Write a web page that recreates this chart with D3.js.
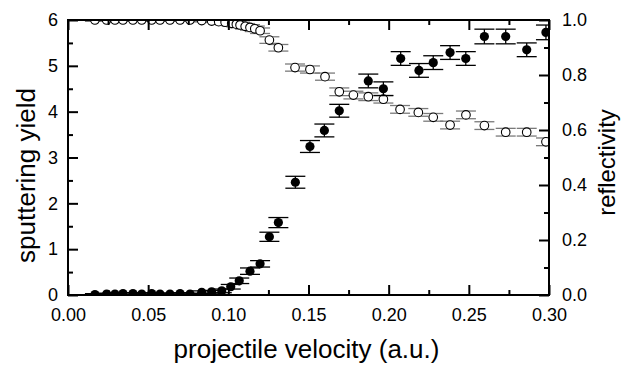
<!DOCTYPE html>
<html>
<head>
<meta charset="utf-8">
<script src="https://cdn.jsdelivr.net/npm/d3@7"></script>
<style>
  body { margin: 0; background: #fff; }
  svg text { font-family: "Liberation Sans", Arial, sans-serif; fill: #000; }
</style>
</head>
<body>
<svg id="chart"></svg>
<script>
// sputtering yield (filled circles, left axis)
const velYield = [0.0168, 0.0241, 0.0293, 0.0343, 0.0405, 0.0460, 0.0522, 0.0574, 0.0636, 0.0699, 0.0761,
  0.0834, 0.0896, 0.0959, 0.1015, 0.1068, 0.1135, 0.1198, 0.1256, 0.1312, 0.1418,
  0.1509, 0.1599, 0.1692, 0.1873, 0.1967, 0.2075, 0.2189, 0.2278, 0.2383, 0.2481, 0.2597, 0.2730, 0.2861, 0.2981];
const yieldVals = [0.01, 0.02, 0.02, 0.03, 0.03, 0.02, 0.03, 0.02, 0.02, 0.03, 0.02,
  0.06, 0.07, 0.09, 0.18, 0.31, 0.52, 0.68, 1.27, 1.58, 2.46,
  3.24, 3.59, 4.02, 4.67, 4.50, 5.16, 4.90, 5.07, 5.29, 5.16, 5.64, 5.64, 5.35, 5.73];
const yieldErr = [0.02, 0.02, 0.02, 0.02, 0.02, 0.02, 0.02, 0.02, 0.02, 0.02, 0.02,
  0.03, 0.03, 0.04, 0.05, 0.06, 0.07, 0.07, 0.10, 0.11, 0.13,
  0.13, 0.14, 0.14, 0.15, 0.15, 0.15, 0.15, 0.15, 0.15, 0.15, 0.16, 0.16, 0.15, 0.16];

// reflectivity (open circles, right axis)
const velRefl = [0.0168, 0.0241, 0.0293, 0.0343, 0.0405, 0.0460, 0.0522, 0.0574, 0.0636, 0.0699, 0.0761,
  0.0834, 0.0896, 0.0940, 0.0980, 0.1021, 0.1050, 0.1073, 0.1105, 0.1135, 0.1165, 0.1198,
  0.1256, 0.1312, 0.1416, 0.1509, 0.1603,
  0.1692, 0.1780, 0.1873, 0.1967, 0.2071, 0.2185, 0.2278, 0.2383, 0.2482, 0.2597, 0.2730, 0.2861, 0.2981];
const reflVals = [1, 1, 1, 1, 1, 1, 1, 1, 1, 1, 1,
  0.998, 0.996, 0.994, 0.992, 0.988, 0.985, 0.982, 0.977, 0.973, 0.968, 0.961,
  0.927, 0.899, 0.827, 0.820, 0.794,
  0.739, 0.727, 0.721, 0.712, 0.675, 0.664, 0.646, 0.618, 0.655, 0.616, 0.592, 0.592, 0.557];
const reflErr = [0.005, 0.005, 0.005, 0.005, 0.005, 0.005, 0.005, 0.005, 0.005, 0.005, 0.005,
  0.005, 0.005, 0.01, 0.01, 0.01, 0.01, 0.01, 0.01, 0.01, 0.01, 0.01,
  0.012, 0.012, 0.013, 0.013, 0.013,
  0.014, 0.014, 0.014, 0.014, 0.014, 0.014, 0.014, 0.014, 0.014, 0.014, 0.014, 0.014, 0.014];

const xTicks = [0, 0.05, 0.10, 0.15, 0.20, 0.25, 0.30];
const yTicks = [0, 1, 2, 3, 4, 5, 6];
const rTicks = [0, 0.2, 0.4, 0.6, 0.8, 1.0];

const W = 622, H = 366;
const margin = { top: 20, right: 73, bottom: 71, left: 68 },
      width = W - margin.left - margin.right,
      height = H - margin.top - margin.bottom;

const root = d3.select("#chart").attr("width", W).attr("height", H);
const svg = root.append("g").attr("transform", `translate(${margin.left},${margin.top})`);

const x = d3.scaleLinear().domain([0, 0.3]).range([0, width]);
const y = d3.scaleLinear().domain([0, 6]).range([height, 0]);
const yr = d3.scaleLinear().domain([0, 1]).range([height, 0]);

svg.append("clipPath").attr("id", "clip")
  .append("rect").attr("width", width).attr("height", height);

const plot = svg.append("g").attr("clip-path", "url(#clip)");

const capW = 10;
const refl = velRefl.map((v, i) => ({ v, val: reflVals[i], err: reflErr[i] }));
const yld = velYield.map((v, i) => ({ v, val: yieldVals[i], err: yieldErr[i] }));

function errorBars(g, data, sc, color) {
  const eb = g.append("g").attr("stroke", color).attr("stroke-width", 1.3).attr("fill", "none");
  eb.selectAll("line.v").data(data).join("line").attr("class", "v")
    .attr("x1", d => x(d.v)).attr("x2", d => x(d.v))
    .attr("y1", d => sc(d.val - d.err)).attr("y2", d => sc(d.val + d.err));
  eb.selectAll("line.t").data(data).join("line").attr("class", "t")
    .attr("x1", d => x(d.v) - capW).attr("x2", d => x(d.v) + capW)
    .attr("y1", d => sc(d.val + d.err)).attr("y2", d => sc(d.val + d.err));
  eb.selectAll("line.b").data(data).join("line").attr("class", "b")
    .attr("x1", d => x(d.v) - capW).attr("x2", d => x(d.v) + capW)
    .attr("y1", d => sc(d.val - d.err)).attr("y2", d => sc(d.val - d.err));
}

// reflectivity
errorBars(plot, refl, yr, "#7a7a7a");
plot.selectAll("circle.r").data(refl).join("circle").attr("class", "r")
  .attr("cx", d => x(d.v)).attr("cy", d => yr(d.val)).attr("r", 4.3)
  .attr("fill", "#fff").attr("stroke", "#000").attr("stroke-width", 1.1);

// sputtering yield
errorBars(plot, yld, y, "#000");
plot.selectAll("circle.y").data(yld).join("circle").attr("class", "y")
  .attr("cx", d => x(d.v)).attr("cy", d => y(d.val)).attr("r", 4.6)
  .attr("fill", "#000");

// axes
function styleAxis(g) {
  g.select(".domain").remove();
  g.selectAll(".tick line").attr("stroke", "#000").attr("stroke-width", 2);
  g.selectAll("text").style("font-size", "18px");
}

const minorX = d3.range(0.025, 0.3, 0.05);
svg.append("g").attr("transform", `translate(0,${height})`)
  .call(d3.axisBottom(x).tickValues(xTicks).tickFormat(d3.format(".2f")).tickSize(-10).tickPadding(13))
  .call(styleAxis);
svg.append("g").attr("transform", `translate(0,${height})`)
  .call(d3.axisBottom(x).tickValues(minorX).tickFormat("").tickSize(-5))
  .call(styleAxis);
svg.append("g")
  .call(d3.axisTop(x).tickValues(xTicks).tickFormat("").tickSize(-10))
  .call(styleAxis);
svg.append("g")
  .call(d3.axisTop(x).tickValues(minorX).tickFormat("").tickSize(-5))
  .call(styleAxis);

svg.append("g")
  .call(d3.axisLeft(y).tickValues(yTicks).tickFormat(d3.format("d")).tickSize(-10).tickPadding(10))
  .call(styleAxis);
svg.append("g")
  .call(d3.axisLeft(y).tickValues(d3.range(0.5, 6, 1)).tickFormat("").tickSize(-5))
  .call(styleAxis);

svg.append("g").attr("transform", `translate(${width},0)`)
  .call(d3.axisRight(yr).tickValues(rTicks).tickFormat(d3.format(".1f")).tickSize(-10).tickPadding(13))
  .call(styleAxis);
svg.append("g").attr("transform", `translate(${width},0)`)
  .call(d3.axisRight(yr).tickValues(d3.range(0.1, 1, 0.2)).tickFormat("").tickSize(-5))
  .call(styleAxis);

// frame
svg.append("rect").attr("width", width).attr("height", height)
  .attr("fill", "none").attr("stroke", "#000").attr("stroke-width", 2);

// titles
svg.append("text")
  .attr("x", width / 2 - 2).attr("y", height + 63)
  .attr("text-anchor", "middle").style("font-size", "26px")
  .text("projectile velocity (a.u.)");

svg.append("text")
  .attr("transform", `translate(${-margin.left + 35},${height / 2 + 18}) rotate(-90)`)
  .attr("text-anchor", "middle").style("font-size", "26px")
  .text("sputtering yield");

svg.append("text")
  .attr("transform", `translate(${width + 66},${height / 2 + 5}) rotate(-90)`)
  .attr("text-anchor", "middle").style("font-size", "24px")
  .text("reflectivity");
</script>
</body>
</html>
